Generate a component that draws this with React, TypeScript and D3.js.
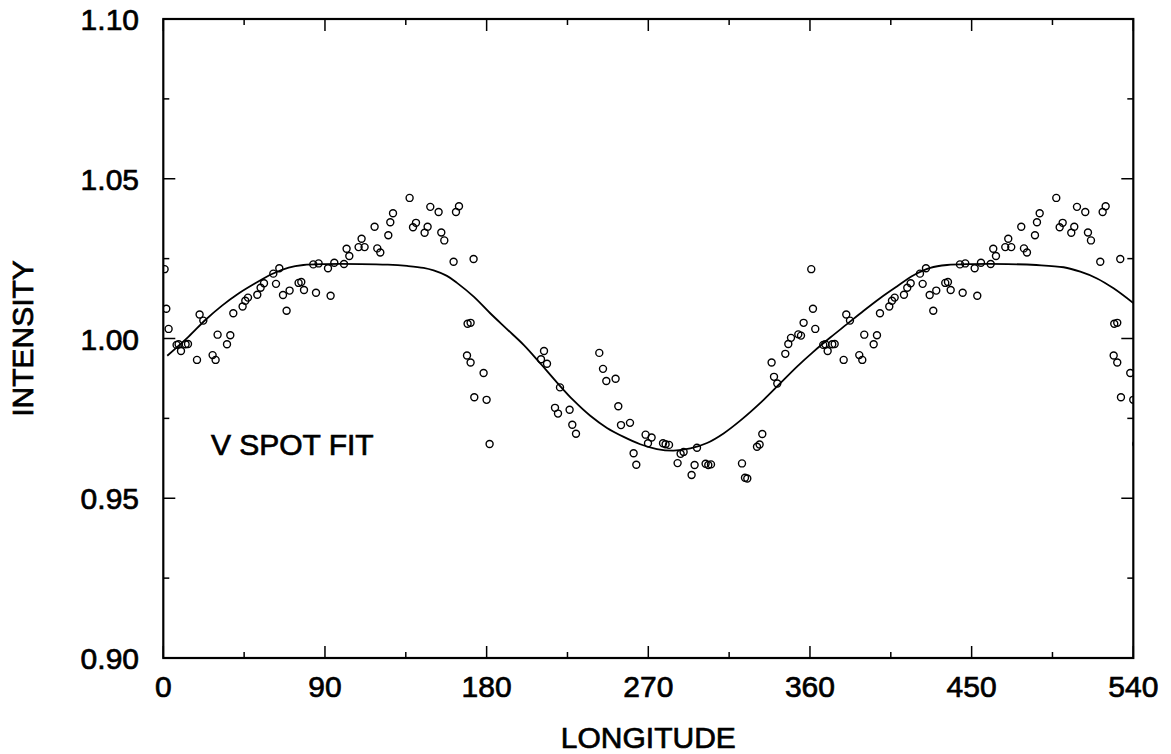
import React from "react";
import * as d3 from "d3";

// Observed points (longitude in degrees, intensity), one rotation; plotted again at +360
const obsLon = [
  0.72, 1.67, 2.95, 7.4, 8.52, 9.85, 12.41, 13.75, 18.76, 20.21, 22.27, 27.45, 29.12, 30.23, 35.46, 37.3, 38.97,
  44.15, 45.65, 47.15, 52.33, 54.17, 56.06, 61.24, 62.74, 64.58, 66.64, 68.64, 70.31, 75.32, 76.82, 78.33, 83.5,
  85.01, 86.46, 91.69, 93.14, 95.2, 100.6, 102.04, 103.55, 108.72, 110.39, 112.06, 117.63, 119.13, 120.8, 125.26,
  126.37, 127.88, 137.12, 139.01, 140.68, 145.47, 147.14, 148.64, 153.26, 154.76, 156.43, 161.61, 162.94, 164.61,
  169.4, 171.07, 172.74, 169.07, 171.07, 178.31, 173.13, 179.98, 181.65,
  211.94, 210.27, 213.61, 220.84, 218.06, 219.73, 226.19, 227.69, 229.75, 242.72, 244.78, 246.62, 251.79, 253.3,
  254.8, 259.81, 268.5, 271.84, 269.83, 261.82, 263.32, 278.19, 279.63, 281.53, 286.31, 287.98, 289.65, 297.11,
  294.1, 295.77, 301.9, 303.4, 304.9, 322.16, 323.83, 325.11, 330.51, 331.96, 333.46, 338.64, 339.98, 341.81,
  346.27, 347.94, 349.44, 353.51, 355.01, 356.46,
];
const obsInt = [
  1.0217, 1.0093, 1.003, 0.998, 0.9982, 0.9961, 0.9982, 0.9983, 0.9933, 1.0075, 1.0056, 0.9948, 0.9933, 1.0012,
  0.9982, 1.001, 1.0079, 1.01, 1.0118, 1.0128, 1.0137, 1.0159, 1.0173, 1.0203, 1.0171, 1.022, 1.0136, 1.0087,
  1.015, 1.0174, 1.0177, 1.0152, 1.0232, 1.0143, 1.0235, 1.022, 1.0134, 1.0237, 1.0233, 1.0281, 1.0258, 1.0286,
  1.0312, 1.0286, 1.035, 1.0282, 1.0269, 1.0323, 1.0364, 1.0392, 1.044, 1.0348, 1.0362, 1.0331, 1.035, 1.0412,
  1.0396, 1.0332, 1.0307, 1.024, 1.0396, 1.0414, 1.0046, 1.0049, 1.0249, 0.9947, 0.9925, 0.9892, 0.9816, 0.9808,
  0.967,
  0.9961, 0.9935, 0.9921, 0.9847, 0.9783, 0.9765, 0.9777, 0.973, 0.9702, 0.9955, 0.9905, 0.9867, 0.9874, 0.9788,
  0.9729, 0.9736, 0.9699, 0.969, 0.9672, 0.9641, 0.9605, 0.9672, 0.9669, 0.9667, 0.961, 0.9639, 0.9645, 0.9658,
  0.9573, 0.9604, 0.9608, 0.9604, 0.9606, 0.9609, 0.9564, 0.9562, 0.9661, 0.9668, 0.9701, 0.9925, 0.988, 0.9859,
  0.9952, 0.9983, 1.0002, 1.0013, 1.0009, 1.0049,
];

// Spot-model fit curve
const fitLon = [
  2.2, 14.1, 23.4, 32.7, 41.9, 51.2, 60.5, 69.8, 78, 90, 110, 125, 135.7, 144.9, 150.5, 157.9, 163.5, 172.8, 182,
  191, 200.6, 209.9, 219.2, 228.4, 237.7, 247, 256.3, 265.5, 274.8, 284.1, 293.4, 302.7, 311.9, 321.2, 334.2,
  343.5, 352.8, 362, 371.3, 380.6, 389.9, 399.2, 408.4, 417.7, 427, 436.3, 450, 470, 486, 501.2, 510.5, 519.8,
  529, 540.2,
];
const fitInt = [
  0.9946, 1.0006, 1.0058, 1.0103, 1.0141, 1.0173, 1.0202, 1.0222, 1.023, 1.0233, 1.0233, 1.0231, 1.0227, 1.0221,
  1.0213, 1.0196, 1.0174, 1.0131, 1.0079, 1.0031, 0.998, 0.9922, 0.9862, 0.9806, 0.9758, 0.9720, 0.9692, 0.9669,
  0.9654, 0.9649, 0.9656, 0.9673, 0.9703, 0.9743, 0.9808, 0.986, 0.9912, 0.9959, 1.0003, 1.0045, 1.0087, 1.0127,
  1.0163, 1.0198, 1.0221, 1.023, 1.0233, 1.0233, 1.023, 1.0223, 1.0209, 1.0188, 1.0157, 1.011,
];

const xTicks = [0, 90, 180, 270, 360, 450, 540];
const xMinor = [45, 135, 225, 315, 405, 495];
const yTicks = [0.9, 0.95, 1.0, 1.05, 1.1];
const yMinor = [0.925, 0.975, 1.025, 1.075];

const W = 1171;
const H = 754;
const left = 163.3;
const right = 1133.3;
const top = 19;
const bottom = 658;
const FONT = "'Liberation Sans', Arial, Helvetica, sans-serif";

export default function App() {
  const x = d3.scaleLinear().domain([0, 540]).range([left, right]);
  const y = d3.scaleLinear().domain([0.9, 1.1]).range([bottom, top]);

  const pts: [number, number][] = [];
  obsLon.forEach((l, i) => {
    pts.push([l, obsInt[i]]);
    if (l + 360 <= 545) pts.push([l + 360, obsInt[i]]);
  });

  const line = d3
    .line<number>()
    .x((_, i) => x(fitLon[i]))
    .y((v) => y(v))
    .curve(d3.curveCatmullRom.alpha(0.5));
  const path = line(fitInt) || "";

  const major = 12;
  const minor = 6;
  const textStyle = { fill: "#000", stroke: "#000", strokeWidth: 0.7 };

  return (
    <svg
      width={W}
      height={H}
      style={{ position: "absolute", left: 0, top: 0, background: "#fff" }}
      fontFamily={FONT}
    >
      <defs>
        <clipPath id="plot">
          <rect x={left} y={top} width={right - left} height={bottom - top} />
        </clipPath>
      </defs>
      <rect x={0} y={0} width={W} height={H} fill="#fff" />

      {/* ticks */}
      <g stroke="#000" strokeWidth={1.5}>
        {xTicks.map((t) => (
          <g key={"xt" + t}>
            <line x1={x(t)} x2={x(t)} y1={bottom} y2={bottom - major} />
            <line x1={x(t)} x2={x(t)} y1={top} y2={top + major} />
          </g>
        ))}
        {xMinor.map((t) => (
          <g key={"xm" + t}>
            <line x1={x(t)} x2={x(t)} y1={bottom} y2={bottom - minor} />
            <line x1={x(t)} x2={x(t)} y1={top} y2={top + minor} />
          </g>
        ))}
        {yTicks.map((t) => (
          <g key={"yt" + t}>
            <line x1={left} x2={left + major} y1={y(t)} y2={y(t)} />
            <line x1={right} x2={right - major} y1={y(t)} y2={y(t)} />
          </g>
        ))}
        {yMinor.map((t) => (
          <g key={"ym" + t}>
            <line x1={left} x2={left + minor} y1={y(t)} y2={y(t)} />
            <line x1={right} x2={right - minor} y1={y(t)} y2={y(t)} />
          </g>
        ))}
      </g>

      {/* data */}
      <g clipPath="url(#plot)">
        <path d={path} fill="none" stroke="#000" strokeWidth={1.8} />
        {pts.map((p, i) => (
          <circle key={i} cx={x(p[0])} cy={y(p[1])} r={3.5} fill="none" stroke="#000" strokeWidth={1.4} />
        ))}
      </g>

      {/* frame */}
      <rect x={left} y={top} width={right - left} height={bottom - top} fill="none" stroke="#000" strokeWidth={2.2} />

      {/* tick labels */}
      <g fontSize={30} style={textStyle}>
        {xTicks.map((t) => (
          <text key={"xl" + t} x={x(t)} y={697} textAnchor="middle">
            {t}
          </text>
        ))}
        {yTicks.map((t) => (
          <text key={"yl" + t} x={139} y={y(t) + 11} textAnchor="end">
            {t.toFixed(2)}
          </text>
        ))}
      </g>

      <text x={(left + right) / 2} y={748} textAnchor="middle" fontSize={30} style={textStyle}>
        LONGITUDE
      </text>
      <text
        transform={`translate(33, ${(top + bottom) / 2}) rotate(-90)`}
        textAnchor="middle"
        fontSize={30}
        style={textStyle}
      >
        INTENSITY
      </text>
      <text x={x(26.5)} y={455} fontSize={30} style={textStyle}>
        V SPOT FIT
      </text>
    </svg>
  );
}
